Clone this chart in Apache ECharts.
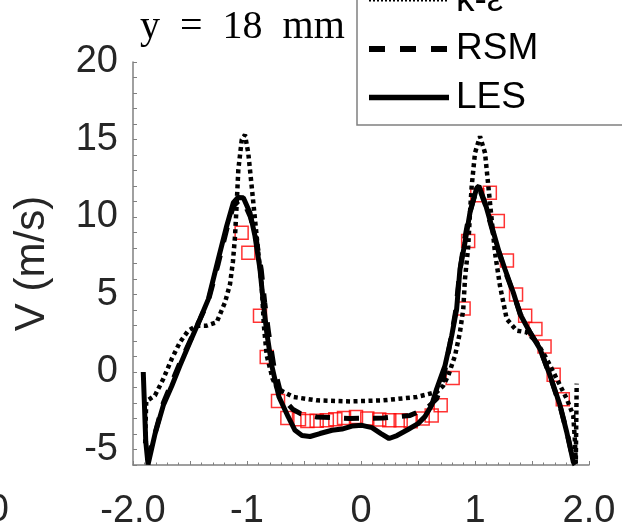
<!DOCTYPE html>
<html>
<head>
<meta charset="utf-8">
<script src="https://cdn.jsdelivr.net/npm/echarts@6/dist/echarts.min.js"></script>
<style>
html,body{margin:0;padding:0;background:#fff;}
#chart{width:622px;height:531px;}
</style>
</head>
<body>
<div id="chart"></div>
<script>
// ---- data ----
const xTickLabels = {"-2": "-2.0", "-1": "-1", "0": "0", "1": "1", "2": "2.0"};
const yTickLabels = [-5, 0, 5, 10, 15, 20];

const expData = [
  [-1.047, 8.99], [-0.988, 7.7], [-0.886, 3.63], [-0.827, 0.96], [-0.728, -1.87],
  [-0.646, -2.96], [-0.544, -3.05], [-0.47, -3.16], [-0.389, -3.15], [-0.3, -3.12],
  [-0.225, -3.05], [-0.149, -2.96], [-0.044, -2.9], [0.055, -3.0], [0.16, -3.07],
  [0.248, -3.12], [0.348, -3.12], [0.436, -3.18], [0.541, -3.0], [0.62, -2.8],
  [0.699, -2.15], [0.804, -0.39], [0.9, 4.1], [0.94, 8.45], [1.02, 11.4],
  [1.13, 11.56], [1.2, 9.74], [1.28, 7.2], [1.36, 5.0], [1.44, 3.63],
  [1.53, 2.78], [1.61, 1.65], [1.69, -0.17], [1.77, -1.75]
];

const keData = [
  [-1.893, -4.6], [-1.889, -3.2], [-1.884, -1.9], [-1.807, -1.51], [-1.734, -0.44],
  [-1.66, 0.85], [-1.588, 1.92], [-1.515, 2.67], [-1.441, 2.99], [-1.354, 2.99],
  [-1.266, 3.21], [-1.193, 4.49], [-1.149, 5.67], [-1.123, 7.15], [-1.105, 8.77],
  [-1.09, 10.92], [-1.076, 13.06], [-1.046, 14.99], [-1.018, 15.31], [-0.989, 14.13],
  [-0.959, 11.99], [-0.93, 9.85], [-0.901, 7.71], [-0.871, 5.56], [-0.852, 3.0],
  [-0.827, 1.06], [-0.775, -0.44], [-0.739, -1.0], [-0.68, -1.29], [-0.594, -1.61],
  [-0.389, -1.83], [-0.096, -1.9], [0.196, -1.83], [0.489, -1.61], [0.664, -1.29],
  [0.72, -0.9], [0.766, -0.22], [0.825, 1.06], [0.868, 2.56], [0.897, 4.06],
  [0.912, 5.99], [0.941, 8.13], [0.956, 10.28], [0.971, 11.99], [1.0, 14.13],
  [1.044, 15.2], [1.088, 14.13], [1.117, 11.99], [1.146, 9.85], [1.175, 7.71],
  [1.219, 5.56], [1.278, 3.42], [1.366, 2.67], [1.454, 2.56], [1.541, 1.92],
  [1.629, 0.85], [1.717, -0.44], [1.804, -1.72], [1.862, -2.8], [1.877, -4.49],
  [1.884, -5.9], [1.892, -0.75]
];

const rsmData = [
  [-1.872, -5.7], [-1.734, -2.0], [-1.588, 0.6], [-1.5, 2.0], [-1.412, 3.4],
  [-1.339, 4.6], [-1.252, 7.0], [-1.178, 9.2], [-1.12, 10.7], [-1.065, 11.1],
  [-1.03, 11.0], [-0.97, 10.0], [-0.92, 8.6], [-0.875, 6.6], [-0.845, 4.5],
  [-0.81, 2.5], [-0.765, 0.4], [-0.71, -1.2], [-0.66, -1.9], [-0.6, -2.4],
  [-0.53, -2.69], [-0.389, -2.9], [-0.1, -3.0], [0.196, -2.97], [0.43, -2.8],
  [0.576, -2.36], [0.664, -1.72], [0.72, -0.5], [0.78, 1.8], [0.83, 3.9],
  [0.865, 6.4], [0.905, 8.4], [0.95, 10.2], [1.01, 11.7], [1.035, 11.9],
  [1.09, 10.8], [1.15, 9.2], [1.21, 7.7], [1.27, 6.4], [1.34, 5.0],
  [1.4, 3.7], [1.48, 2.6], [1.57, 1.5], [1.66, -0.3], [1.75, -2.3],
  [1.81, -4.0], [1.865, -5.8], [1.88, -5.95]
];

const lesData = [
  [-1.91, 0.0], [-1.888, -4.49], [-1.868, -5.96], [-1.807, -4.0], [-1.734, -2.15],
  [-1.66, -0.9], [-1.588, 0.42], [-1.5, 1.94], [-1.412, 3.42], [-1.339, 4.7],
  [-1.252, 7.28], [-1.178, 9.42], [-1.12, 10.92], [-1.079, 11.26], [-1.032, 11.24],
  [-0.974, 10.28], [-0.93, 8.77], [-0.886, 6.63], [-0.857, 4.49], [-0.827, 2.56],
  [-0.783, 0.42], [-0.72, -1.6], [-0.638, -2.9], [-0.579, -3.76], [-0.518, -4.1],
  [-0.447, -4.16], [-0.36, -3.97], [-0.254, -3.76], [-0.167, -3.68], [-0.079, -3.49],
  [0.009, -3.44], [0.096, -3.59], [0.175, -3.97], [0.246, -4.29], [0.316, -4.1],
  [0.412, -3.71], [0.5, -3.33], [0.561, -2.88], [0.62, -2.15], [0.664, -1.08],
  [0.737, 0.42], [0.796, 2.35], [0.839, 4.06], [0.868, 6.63], [0.912, 8.35],
  [0.956, 10.28], [1.015, 11.88], [1.035, 12.0], [1.088, 10.92], [1.146, 9.42],
  [1.204, 7.92], [1.263, 6.63], [1.336, 5.13], [1.395, 3.74], [1.482, 2.56],
  [1.57, 1.49], [1.658, -0.22], [1.746, -2.15], [1.804, -3.86], [1.862, -5.79],
  [1.877, -6.0]
];

const titleText = "y\u2002=\u200218\u2002mm";
const yName = "V (m/s)";

// ---- chart ----
const chart = echarts.init(document.getElementById('chart'), null, {renderer: 'canvas'});
const axisGray = '#808080';
const labelColor = '#262626';
const sansFont = 'Liberation Sans, Arial, sans-serif';

const keStyle = {color: '#000', width: 4.5, type: [4, 3.5]};
const rsmStyle = {color: '#000', width: 5, type: [15, 14]};
const lesStyle = {color: '#000', width: 5, type: 'solid'};

chart.setOption({
  animation: false,
  backgroundColor: '#ffffff',
  title: {
    text: titleText,
    left: 140,
    top: 7,
    padding: 0,
    textStyle: {fontFamily: 'Liberation Serif, serif', fontSize: 40, fontWeight: 'normal', color: '#000'}
  },
  graphic: [{
    type: 'text', left: -44, top: 492,
    style: {text: '2.0', font: '38px Liberation Sans', fill: labelColor}
  }],
  legend: {
    data: [
      {name: 'k-ε', lineStyle: {color: '#000', width: 2, type: [2, 2]}},
      {name: 'RSM', lineStyle: {color: '#000', width: 6, type: [16, 15]}},
      {name: 'LES', lineStyle: {color: '#000', width: 5.5, type: 'solid'}}
    ],
    orient: 'vertical',
    left: 357,
    top: -27,
    padding: [9, 120, 9, 9],
    itemWidth: 80,
    itemHeight: 30,
    itemGap: 11.5,
    itemStyle: {opacity: 0},
    backgroundColor: '#ffffff',
    borderColor: '#808080',
    borderWidth: 1.5,
    borderRadius: 0,
    textStyle: {fontFamily: sansFont, fontSize: 37, color: '#000', lineHeight: 37, padding: [0, 0, 0, 2]},
    selectedMode: false
  },
  grid: {left: 133, right: 33, top: 62, bottom: 64, containLabel: false},
  xAxis: {
    type: 'value', min: -2, max: 2, interval: 0.5,
    axisLine: {show: true, onZero: false, lineStyle: {color: axisGray, width: 1.5}},
    axisTick: {show: true, inside: true, length: 4, lineStyle: {color: axisGray, width: 1}},
    minorTick: {show: true, splitNumber: 5, length: 2.5, lineStyle: {color: axisGray, width: 1}},
    splitLine: {show: false},
    minorSplitLine: {show: false},
    axisLabel: {
      show: true, margin: 28, fontFamily: sansFont, fontSize: 38, color: labelColor,
      showMinLabel: true, showMaxLabel: true,
      formatter: function (v) { const k = String(Math.round(v * 10) / 10); return xTickLabels[k] !== undefined ? xTickLabels[k] : ''; }
    }
  },
  yAxis: {
    type: 'value', min: -6, max: 20, interval: 1,
    name: yName, nameLocation: 'middle', nameGap: 80,
    nameTextStyle: {fontFamily: sansFont, fontSize: 42, color: labelColor},
    axisLine: {show: true, onZero: false, lineStyle: {color: axisGray, width: 1.5}},
    axisTick: {show: true, inside: true, length: 4, lineStyle: {color: axisGray, width: 1}},
    splitLine: {show: false},
    axisLabel: {
      show: true, interval: 0, margin: 15, fontFamily: sansFont, fontSize: 38, color: labelColor,
      formatter: function (v) { return yTickLabels.indexOf(v) >= 0 ? String(v) : ''; }
    }
  },
  series: [
    {
      name: 'Exp', type: 'scatter', data: expData, symbol: 'rect', symbolSize: 13, z: 1,
      itemStyle: {color: 'rgba(0,0,0,0)', borderColor: '#ff0000', borderWidth: 1.5}
    },
    {
      name: 'k-ε', type: 'line', data: keData, symbol: 'none', z: 2,
      itemStyle: {color: '#000'}, lineStyle: keStyle
    },
    {
      name: 'RSM', type: 'line', data: rsmData, symbol: 'none', z: 3,
      itemStyle: {color: '#000'}, lineStyle: rsmStyle
    },
    {
      name: 'LES', type: 'line', data: lesData, symbol: 'none', z: 4,
      itemStyle: {color: '#000'}, lineStyle: lesStyle
    }
  ]
});
</script>
</body>
</html>
